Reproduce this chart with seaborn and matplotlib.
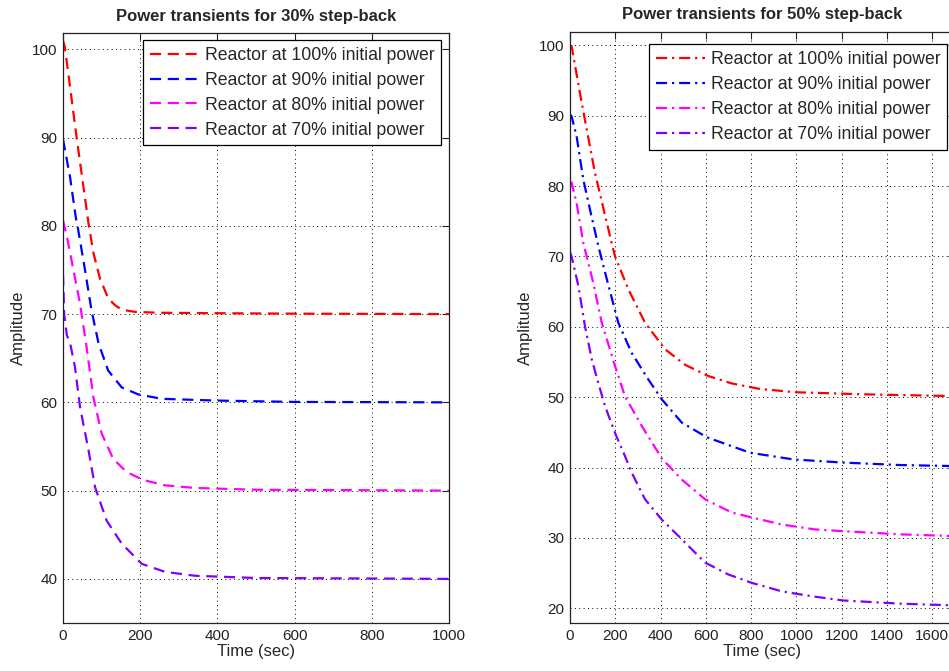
import numpy as np
import pandas as pd
import seaborn as sns
import matplotlib
matplotlib.use("Agg")
import matplotlib.pyplot as plt

# ---- 30% step-back ----
t30_100 = [0, 5, 35, 66, 79, 96, 117, 135, 152, 187, 250, 400, 600, 1000]
p30_100 = [101.0, 100.2, 90.1, 80.3, 76.9, 74.0, 71.8, 71.0, 70.5, 70.25, 70.15, 70.1, 70.05, 70.0]
t30_90 = [0, 3, 18, 33, 38, 57, 74, 92, 117, 152, 195, 256, 400, 600, 1000]
p30_90 = [89.8, 89.1, 85.6, 81.0, 79.9, 75.0, 70.4, 66.7, 63.6, 61.7, 60.9, 60.4, 60.2, 60.05, 60.0]
t30_80 = [0, 10, 27, 44, 61, 79, 100, 130, 165, 208, 264, 342, 500, 1000]
p30_80 = [80.6, 78.8, 75.0, 71.2, 66.3, 60.5, 56.5, 53.6, 52.1, 51.2, 50.6, 50.3, 50.1, 50.0]
t30_70 = [0, 3, 10, 18, 31, 44, 66, 83, 113, 152, 204, 264, 342, 500, 1000]
p30_70 = [74.5, 70.0, 67.6, 66.8, 64.0, 59.5, 54.6, 50.4, 46.6, 44.0, 41.7, 40.8, 40.35, 40.1, 40.0]

# ---- 50% step-back ----
t50_100 = [0, 7, 44, 66, 110, 184, 199, 258, 331, 420, 508, 611, 714, 832, 993, 1100, 1300, 1700]
p50_100 = [100.0, 99.9, 93.2, 89.4, 81.9, 71.9, 70.0, 65.3, 60.6, 56.8, 54.6, 53.0, 51.95, 51.2, 50.7, 50.6, 50.4, 50.15]
t50_90 = [0, 7, 29, 59, 88, 125, 155, 213, 272, 346, 405, 493, 604, 795, 986, 1207, 1458, 1700]
p50_90 = [90.2, 89.9, 87.1, 80.9, 76.7, 71.5, 67.7, 60.6, 56.3, 52.5, 49.7, 46.4, 44.3, 42.1, 41.15, 40.7, 40.35, 40.2]
t50_80 = [0, 7, 29, 59, 103, 140, 199, 243, 317, 405, 493, 596, 714, 803, 935, 1082, 1207, 1458, 1700]
p50_80 = [80.6, 80.5, 77.6, 71.9, 66.2, 60.6, 54.4, 50.1, 45.9, 41.3, 38.3, 35.5, 33.6, 32.9, 31.9, 31.2, 30.95, 30.5, 30.25]
t50_70 = [0, 7, 37, 66, 96, 125, 155, 199, 243, 272, 331, 405, 478, 596, 699, 803, 935, 1068, 1207, 1458, 1700]
p50_70 = [70.6, 70.0, 65.8, 60.1, 55.4, 52.0, 48.7, 44.9, 41.6, 39.3, 35.5, 32.6, 30.3, 26.5, 24.8, 23.6, 22.4, 21.7, 21.1, 20.65, 20.4]

labels = ["Reactor at 100% initial power", "Reactor at 90% initial power",
          "Reactor at 80% initial power", "Reactor at 70% initial power"]
colors = ["#ff0000", "#0000ff", "#ff00ff", "#8000ff"]

sns.set_style("white")
plt.rcParams["font.family"] = ["Liberation Sans", "DejaVu Sans"]

fig = plt.figure(figsize=(9.49, 6.71), dpi=100)
W, H = 949, 671
ax1 = fig.add_axes([63 / W, 1 - 623 / H, 386 / W, 590 / H])
ax2 = fig.add_axes([570 / W, 1 - 623 / H, 385 / W, 591 / H])

panels = [
    (ax1, [(t30_100, p30_100), (t30_90, p30_90), (t30_80, p30_80), (t30_70, p30_70)],
     [5, 3], "Power transients for 30% step-back", (0, 1000), (35, 101.85),
     np.arange(0, 1001, 200), np.arange(40, 101, 10), (0.979, 0.988)),
    (ax2, [(t50_100, p50_100), (t50_90, p50_90), (t50_80, p50_80), (t50_70, p50_70)],
     [5, 2.2, 1, 2.2], "Power transients for 50% step-back", (0, 1700), (17.9, 101.9),
     np.arange(0, 1601, 200), np.arange(20, 101, 10), (0.979, 0.979)),
]

for ax, series, dash, title, xl, yl, xt, yt, anchor in panels:
    for (t, p), lab, c in zip(series, labels, colors):
        df = pd.DataFrame({"t": t, "p": p})
        sns.lineplot(data=df, x="t", y="p", ax=ax, color=c, label=lab,
                     estimator=None, sort=False, linewidth=1.6)
        ax.lines[-1].set_dashes(dash)
    ax.set_xlim(*xl)
    ax.set_ylim(*yl)
    ax.set_xticks(xt)
    ax.set_yticks(yt)
    ax.grid(True, color="black", linestyle=(0, (1, 3.5)), linewidth=0.7)
    ax.tick_params(direction="in", length=5, width=0.8, top=True, right=True,
                   labelsize=11, colors="#222222", pad=4)
    for s in ax.spines.values():
        s.set_color("#222222")
        s.set_linewidth(0.9)
        s.set_visible(True)
    ax.set_title(title, fontsize=12, fontweight="bold", pad=9)
    ax.set_xlabel("Time (sec)", fontsize=12, labelpad=1)
    ax.set_ylabel("Amplitude", fontsize=12, labelpad=4)
    leg = ax.legend(loc="upper right", bbox_to_anchor=anchor, fontsize=12.7,
                    frameon=True, fancybox=False, edgecolor="black", framealpha=1,
                    handlelength=2.8, labelspacing=0.45, borderpad=0.38,
                    handletextpad=0.3, borderaxespad=0)
    leg.get_frame().set_linewidth(0.9)

fig.savefig("out.png", dpi=100)
